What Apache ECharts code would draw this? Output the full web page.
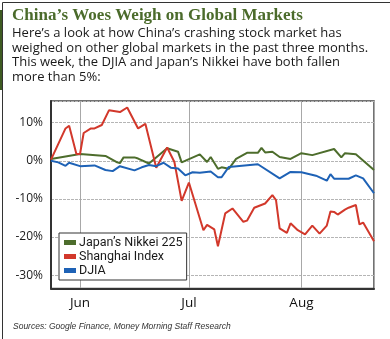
<!DOCTYPE html>
<html>
<head>
<meta charset="utf-8">
<script src="https://cdn.jsdelivr.net/npm/echarts@6/dist/echarts.min.js"></script>
<style>
  html, body { margin: 0; padding: 0; background: #fff; }
  #chart { width: 390px; height: 339px; }
</style>
</head>
<body>
<div id="chart"></div>
<script>
// ---- data ----
// x values: days since 2015-05-24
const monthLabels = ['Jan','Feb','Mar','Apr','May','Jun','Jul','Aug','Sep','Oct','Nov','Dec'];
const startYear = 2015, startMonth = 4, startDay = 24; // May 24, 2015
const lastDay = 89;                                    // Aug 21, 2015

const nikkeiDays   = [0, 8, 15, 18, 19, 20, 23, 24, 27, 32, 35, 36, 41, 43, 44, 46, 47, 49, 51, 54, 57, 58, 59, 61, 63, 66, 69, 72, 78, 80, 81, 84, 89];
const nikkeiValues = [0.5, 1.8, 1.3, -0.3, -0.6, 0.9, 0.9, 0.6, -0.7, 3.3, 2.4, -0.4, 1.7, -0.3, 1.0, -2.1, -1.7, -2.1, 0.5, 2.1, 2.1, 3.4, 2.2, 2.4, 1.0, 0.5, 2.0, 1.5, 3.1, 0.9, 2.0, 1.7, -2.4];

const shanghaiDays   = [0, 4, 5, 7, 8, 9, 11, 12, 14, 16, 19, 21, 24, 26, 29, 32, 34, 36, 38, 42, 43, 45, 46, 48, 50, 53, 54, 56, 59, 61, 62, 63, 65, 66, 68, 70, 72, 74, 76, 77, 78, 79, 81, 82, 84, 85, 86, 89];
const shanghaiValues = [0.3, 8.5, 9.2, 1.8, 1.8, 7.3, 8.5, 8.5, 9.4, 13.3, 12.8, 14.0, 8.5, 9.7, -1.8, 3.5, -0.3, -10.5, -5.7, -18.2, -16.8, -18.0, -22.4, -13.8, -12.5, -16.0, -15.7, -12.3, -11.2, -9.0, -10.3, -17.7, -18.9, -16.4, -18.2, -19.3, -17.0, -19.1, -17.0, -13.3, -13.4, -14.1, -12.8, -12.3, -11.6, -16.7, -16.2, -21.1];

const djiaDays   = [0, 2, 4, 5, 8, 12, 15, 17, 19, 23, 25, 27, 29, 31, 33, 35, 37, 39, 41, 44, 46, 47, 49, 57, 63, 66, 69, 73, 76, 77, 78, 82, 84, 86, 89];
const djiaValues = [0, -0.4, -1.3, -0.5, -1.4, -1.2, -2.4, -2.7, -1.4, -2.5, -1.7, -1.1, -1.4, -0.5, -1.8, -2.0, -3.8, -3.0, -3.1, -2.8, -4.3, -4.3, -1.6, -0.9, -4.6, -2.9, -3.0, -3.9, -5.2, -3.5, -4.7, -4.7, -3.8, -4.6, -8.5];

const seriesNames = ['Japan\u2019s Nikkei 225', 'Shanghai Index', 'DJIA'];
const yMin = -33.5, yMax = 15.7;

const titleText = 'China\u2019s Woes Weigh on Global Markets';
const introText = 'Here\u2019s a look at how China\u2019s crashing stock market has\nweighed on other global markets in the past three months.\nThis week, the DJIA and Japan\u2019s Nikkei have both fallen\nmore than 5%:';
const sourceText = 'Sources: Google Finance, Money Morning Staff Research';

// ---- helpers ----
function dayToTime(d) { return new Date(startYear, startMonth, startDay + d).getTime(); }
function pairs(days, vals) { return days.map((d, i) => [dayToTime(d), vals[i]]); }

const chart = echarts.init(document.getElementById('chart'), null, { renderer: 'canvas' });

const colors = ['#4d6d2c', '#d2382b', '#1e62b6'];

chart.setOption({
  animation: false,
  backgroundColor: '#fff',
  color: colors,
  title: [
    {
      text: titleText, left: 12, top: 7, padding: 0,
      textStyle: { fontFamily: 'Liberation Serif', fontWeight: 'bold', fontSize: 17, color: '#4b6b2b' }
    },
    {
      text: introText, left: 12, top: 26, padding: 0,
      textStyle: { fontFamily: 'Open Sans', fontWeight: 'normal', fontSize: 13, lineHeight: 14.7, color: '#1a1a1a' }
    },
    {
      text: sourceText, left: 13, top: 322, padding: 0,
      textStyle: { fontFamily: 'Liberation Sans', fontStyle: 'italic', fontWeight: 'normal', fontSize: 8.5, color: '#333' }
    }
  ],
  grid: {
    left: 51, top: 101, width: 323, height: 187.5,
    show: true, borderColor: '#444', borderWidth: 1.5, backgroundColor: 'transparent'
  },
  legend: {
    orient: 'vertical', left: 59, top: 233,
    backgroundColor: '#fff', borderColor: '#333', borderWidth: 1,
    padding: [3, 4, 3, 5],
    itemWidth: 12, itemHeight: 5, itemGap: 1,
    icon: 'rect',
    textStyle: { fontFamily: 'Roboto', fontSize: 12.5, lineHeight: 13, color: '#1a1a1a', padding: [0, 0, 0, -2] },
    data: seriesNames
  },
  xAxis: {
    type: 'time',
    min: dayToTime(0), max: dayToTime(lastDay),
    splitNumber: 3,
    minInterval: 28 * 86400000,
    axisLine: { show: true, onZero: false, lineStyle: { color: '#333', width: 2 } },
    axisTick: { show: false },
    splitLine: { show: true, lineStyle: { color: '#a8a8a8', width: 1 } },
    axisLabel: {
      margin: 8, fontFamily: 'Open Sans', fontSize: 13.5, color: '#111',
      showMinLabel: false, showMaxLabel: false,
      formatter: function (v) { const d = new Date(v); return d.getDate() === 1 ? monthLabels[d.getMonth()] : ''; }
    }
  },
  yAxis: {
    type: 'value', min: yMin, max: yMax, splitNumber: 5,
    axisLine: { show: true, onZero: false, lineStyle: { color: '#333', width: 2 } },
    axisTick: { show: false },
    splitLine: { show: true, lineStyle: { color: '#b5b5b5', width: 1, type: [3, 1] } },
    axisLabel: {
      margin: 8, fontFamily: 'Open Sans', fontSize: 12, color: '#1a1a1a',
      formatter: function (v) { return Math.abs(v % 10) < 1e-6 ? v + '%' : ''; }
    }
  },
  series: [
    { name: seriesNames[0], type: 'line', data: pairs(nikkeiDays, nikkeiValues), showSymbol: false, lineStyle: { width: 2, color: colors[0] }, itemStyle: { color: colors[0] } },
    { name: seriesNames[1], type: 'line', data: pairs(shanghaiDays, shanghaiValues), showSymbol: false, lineStyle: { width: 2, color: colors[1] }, itemStyle: { color: colors[1] } },
    { name: seriesNames[2], type: 'line', data: pairs(djiaDays, djiaValues), showSymbol: false, lineStyle: { width: 2, color: colors[2] }, itemStyle: { color: colors[2] } }
  ],
  graphic: [
    { type: 'rect', left: 0, top: 10, shape: { width: 2.5, height: 80 }, style: { fill: '#3e5a22' }, silent: true },
    { type: 'rect', left: 0, top: 0, shape: { width: 389, height: 338 }, style: { fill: 'none', stroke: '#333', lineWidth: 1 }, silent: true }
  ]
});
</script>
</body>
</html>
